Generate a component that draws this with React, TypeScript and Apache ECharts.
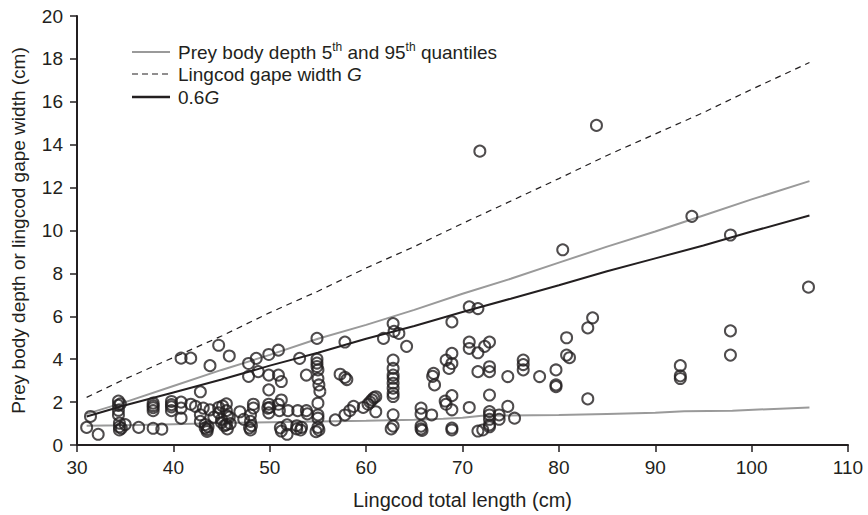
import React, { useEffect, useRef } from "react";
import * as echarts from "echarts";

// Lingcod total length (cm) of each observed prey item
const preyLength = [
  31.0, 31.4, 32.2, 34.3, 34.3, 34.3, 34.3, 34.4, 34.4, 34.4, 34.5, 34.6, 35.0, 36.4,
  37.9, 37.9, 37.9, 37.9, 37.9, 38.8, 39.8, 39.8, 39.8, 39.8, 40.8, 40.8, 40.8, 40.8,
  41.8, 41.8, 42.3, 42.8, 42.8, 42.8, 43.1, 43.3, 43.3, 43.5, 43.5, 43.6, 43.8, 43.8,
  44.2, 44.7, 44.7, 44.7, 45.0, 45.0, 45.1, 45.3, 45.5, 45.5, 45.6, 45.5, 45.6, 45.8,
  45.8, 45.9, 46.9, 47.3, 47.8, 47.8, 47.9, 48.0, 48.0, 48.0, 48.1, 48.3, 48.3, 48.6,
  48.8, 49.9, 49.9, 49.9, 49.9, 49.8, 49.9, 50.0, 50.9, 50.9, 50.9, 51.0, 51.2, 51.2,
  51.1, 51.2, 51.8, 51.8, 51.9, 52.8, 52.8, 52.9, 53.1, 53.2, 53.3, 53.8, 53.8, 53.9,
  54.9, 54.9, 54.9, 54.9, 55.0, 55.0, 55.1, 55.2, 55.0, 55.0, 55.0, 55.0, 55.1, 54.8,
  56.8, 57.3, 57.8, 57.8, 58.0, 57.8, 58.3, 58.7, 59.7, 60.2, 60.4, 60.6, 60.8, 61.0,
  61.0, 61.8, 62.8, 62.9, 62.8, 62.8, 62.8, 62.8, 62.8, 62.8, 62.8, 62.8, 62.8, 62.8,
  62.6, 63.4, 64.2, 65.7, 65.7, 65.7, 65.7, 65.8, 66.8, 67.0, 66.9, 67.1, 68.3, 68.3,
  68.6, 68.9, 68.9, 68.9, 68.9, 68.9, 68.2, 68.9, 68.9, 70.7, 70.7, 70.7, 70.7, 71.6,
  71.8, 71.6, 71.6, 71.6, 72.1, 72.3, 72.8, 72.8, 72.8, 72.8, 72.8, 72.8, 72.8, 72.8,
  72.8, 73.8, 73.8, 74.7, 74.7, 75.4, 76.3, 76.3, 76.3, 78.0, 79.7, 79.7, 79.7, 80.4,
  80.8, 80.8, 81.1, 83.0, 83.0, 83.5, 83.9, 92.6, 92.6, 92.6, 93.8, 97.8, 97.8, 97.8,
  105.9,
];

// Prey body depth (cm), same order as preyLength
const preyDepth = [
  0.82, 1.33, 0.5, 2.05, 1.85, 1.62, 1.4, 1.02, 0.85, 0.7, 1.92, 0.78, 0.95, 0.82,
  1.95, 1.84, 1.74, 1.6, 0.78, 0.74, 2.03, 1.88, 1.78, 1.6, 4.05, 2.0, 1.72, 1.25,
  4.05, 1.9, 1.8, 2.48, 1.41, 1.1, 1.72, 0.8, 0.95, 0.63, 0.72, 0.85, 3.7, 1.64,
  1.3, 4.65, 1.75, 1.5, 1.2, 1.05, 1.82, 0.9, 1.92, 1.6, 1.35, 0.95, 0.75, 4.15,
  1.3, 1.0, 1.55, 1.2, 3.8, 3.2, 0.8, 1.4, 1.1, 0.7, 0.9, 1.72, 1.9, 4.04,
  3.42, 4.22, 3.26, 2.57, 1.9, 1.72, 1.5, 1.75, 4.42, 3.26, 1.9, 1.6, 2.1, 2.96,
  0.8, 0.65, 0.5, 0.94, 1.6, 0.75, 0.9, 1.6, 4.04, 0.7, 0.82, 3.26, 1.6, 1.45,
  4.97, 4.0, 3.82, 3.66, 3.5, 3.1, 2.8, 2.5, 1.95, 1.4, 1.25, 0.82, 0.7, 0.62,
  1.17, 3.3, 4.8, 3.15, 3.05, 1.4, 1.6, 1.8, 1.75, 1.9, 2.0, 2.1, 2.2, 2.25,
  1.55, 4.97, 5.66, 5.3, 3.96, 3.57, 3.26, 3.11, 2.88, 2.65, 2.41, 2.26, 1.41, 0.88,
  0.75, 5.2, 4.6, 1.72, 1.45, 0.88, 0.75, 0.68, 1.4, 3.34, 3.2, 2.8, 3.96, 1.9,
  3.57, 5.74, 4.27, 3.8, 2.3, 1.64, 2.05, 0.79, 0.7, 6.44, 4.8, 4.5, 1.75, 6.36,
  13.7, 4.3, 3.42, 0.65, 0.7, 4.6, 4.8, 3.65, 3.42, 2.33, 1.56, 1.4, 1.2, 0.94,
  0.85, 1.4, 1.2, 3.19, 1.8, 1.25, 3.96, 3.75, 3.5, 3.19, 3.5, 2.8, 2.72, 9.1,
  5.0, 4.19, 4.07, 5.46, 2.15, 5.93, 14.9, 3.7, 3.22, 3.1, 10.66, 9.79, 5.32, 4.19,
  7.36,
];

// Lengths at which the reference curves are read
const curveLength = [31, 35, 40, 45, 50, 55, 60, 65, 70, 75, 80, 85, 90, 95, 100, 106];
// Prey body depth 95th quantile
const q95 = [1.45, 2.0, 2.75, 3.5, 4.2, 4.95, 5.6, 6.3, 7.05, 7.75, 8.5, 9.25, 9.95, 10.7, 11.45, 12.3];
// Lingcod gape width G
const gapeG = [2.22, 3.08, 4.08, 5.08, 6.17, 7.17, 8.25, 9.25, 10.33, 11.37, 12.42, 13.5, 14.5, 15.5, 16.58, 17.83];
// 0.6 G
const gape06 = [1.33, 1.85, 2.45, 3.05, 3.7, 4.3, 4.95, 5.55, 6.2, 6.82, 7.45, 8.1, 8.7, 9.3, 9.95, 10.7];

// 5th quantile (read at its own lengths, it has small steps)
const q05Length = [31, 35, 40, 45, 50, 55, 60, 65, 68, 70, 72, 80, 85, 90, 93, 98, 106];
const q05 = [0.9, 0.92, 0.97, 1.02, 1.06, 1.1, 1.13, 1.18, 1.22, 1.27, 1.36, 1.4, 1.45, 1.5, 1.57, 1.6, 1.75];

const xTicks = { min: 30, max: 110, interval: 10 };
const yTicks = { min: 0, max: 20, interval: 2 };

const FONT = "'Liberation Sans', Arial, Helvetica, sans-serif";
const INK = "#231f20";
const GREY = "#9a9a9a";

export default function App() {
  const ref = useRef<HTMLDivElement>(null);

  useEffect(() => {
    if (!ref.current) return;
    const chart = echarts.init(ref.current, undefined, { renderer: "svg" });

    const pts = preyLength.map((l, i) => [l, preyDepth[i]]);
    const line = (xs: number[], ys: number[]) => xs.map((x, i) => [x, ys[i]]);

    const legendX0 = 132;
    const legendX1 = 170;
    const textX = 178;
    const rows = [52, 74, 97];

    chart.setOption({
      animation: false,
      textStyle: { fontFamily: FONT },
      grid: { left: 77, right: 20, top: 16, bottom: 68, containLabel: false },
      xAxis: {
        type: "value",
        min: xTicks.min,
        max: xTicks.max,
        interval: xTicks.interval,
        name: "Lingcod total length (cm)",
        nameLocation: "middle",
        nameGap: 45,
        nameTextStyle: { fontSize: 20, color: INK, fontFamily: FONT },
        axisLine: { lineStyle: { color: INK, width: 2 } },
        axisTick: { inside: false, length: 7, lineStyle: { color: INK, width: 1.5 } },
        axisLabel: { fontSize: 19, color: INK, margin: 13, fontFamily: FONT },
        splitLine: { show: false },
      },
      yAxis: {
        type: "value",
        min: yTicks.min,
        max: yTicks.max,
        interval: yTicks.interval,
        name: "Prey body depth or lingcod gape width (cm)",
        nameLocation: "middle",
        nameGap: 49,
        nameTextStyle: { fontSize: 19, color: INK, fontFamily: FONT },
        axisLine: { show: true, lineStyle: { color: INK, width: 2 } },
        axisTick: { show: true, inside: false, length: 7, lineStyle: { color: INK, width: 1.5 } },
        axisLabel: { fontSize: 19, color: INK, margin: 14, fontFamily: FONT },
        splitLine: { show: false },
      },
      series: [
        {
          type: "line",
          data: line(curveLength, gapeG),
          showSymbol: false,
          lineStyle: { color: INK, width: 1.2, type: [6, 5] },
          z: 2,
        },
        {
          type: "line",
          data: line(curveLength, q95),
          showSymbol: false,
          lineStyle: { color: GREY, width: 2 },
          z: 2,
        },
        {
          type: "line",
          data: line(q05Length, q05),
          showSymbol: false,
          lineStyle: { color: GREY, width: 2 },
          z: 2,
        },
        {
          type: "line",
          data: line(curveLength, gape06),
          showSymbol: false,
          lineStyle: { color: INK, width: 2 },
          z: 2,
        },
        {
          type: "scatter",
          data: pts,
          symbol: "circle",
          symbolSize: 11,
          itemStyle: { color: "rgba(0,0,0,0)", borderColor: INK, borderWidth: 2 },
          z: 3,
        },
      ],
      graphic: [
        {
          type: "line",
          shape: { x1: legendX0, y1: rows[0], x2: legendX1, y2: rows[0] },
          style: { stroke: GREY, lineWidth: 2 },
        },
        {
          type: "line",
          shape: { x1: legendX0, y1: rows[1], x2: legendX1, y2: rows[1] },
          style: { stroke: INK, lineWidth: 1.2, lineDash: [6, 4] },
        },
        {
          type: "line",
          shape: { x1: legendX0, y1: rows[2], x2: legendX1, y2: rows[2] },
          style: { stroke: INK, lineWidth: 2.5 },
        },
        {
          type: "text",
          x: textX,
          y: rows[0],
          style: {
            text: "{a|Prey body depth 5}{s|th}{a| and 95}{s|th}{a| quantiles}",
            verticalAlign: "middle",
            rich: {
              a: { fontSize: 19, fill: INK, fontFamily: FONT },
              s: { fontSize: 12, fill: INK, fontFamily: FONT, padding: [0, 0, 10, 0] },
            },
          },
        },
        {
          type: "text",
          x: textX,
          y: rows[1],
          style: {
            text: "{a|Lingcod gape width }{i|G}",
            verticalAlign: "middle",
            rich: {
              a: { fontSize: 19, fill: INK, fontFamily: FONT },
              i: { fontSize: 19, fill: INK, fontFamily: FONT, fontStyle: "italic" },
            },
          },
        },
        {
          type: "text",
          x: textX,
          y: rows[2],
          style: {
            text: "{a|0.6}{i|G}",
            verticalAlign: "middle",
            rich: {
              a: { fontSize: 19, fill: INK, fontFamily: FONT },
              i: { fontSize: 19, fill: INK, fontFamily: FONT, fontStyle: "italic" },
            },
          },
        },
      ],
    });

    return () => chart.dispose();
  }, []);

  return (
    <div
      ref={ref}
      style={{ position: "fixed", left: 0, top: 0, width: 868, height: 515, background: "#fff" }}
    />
  );
}
